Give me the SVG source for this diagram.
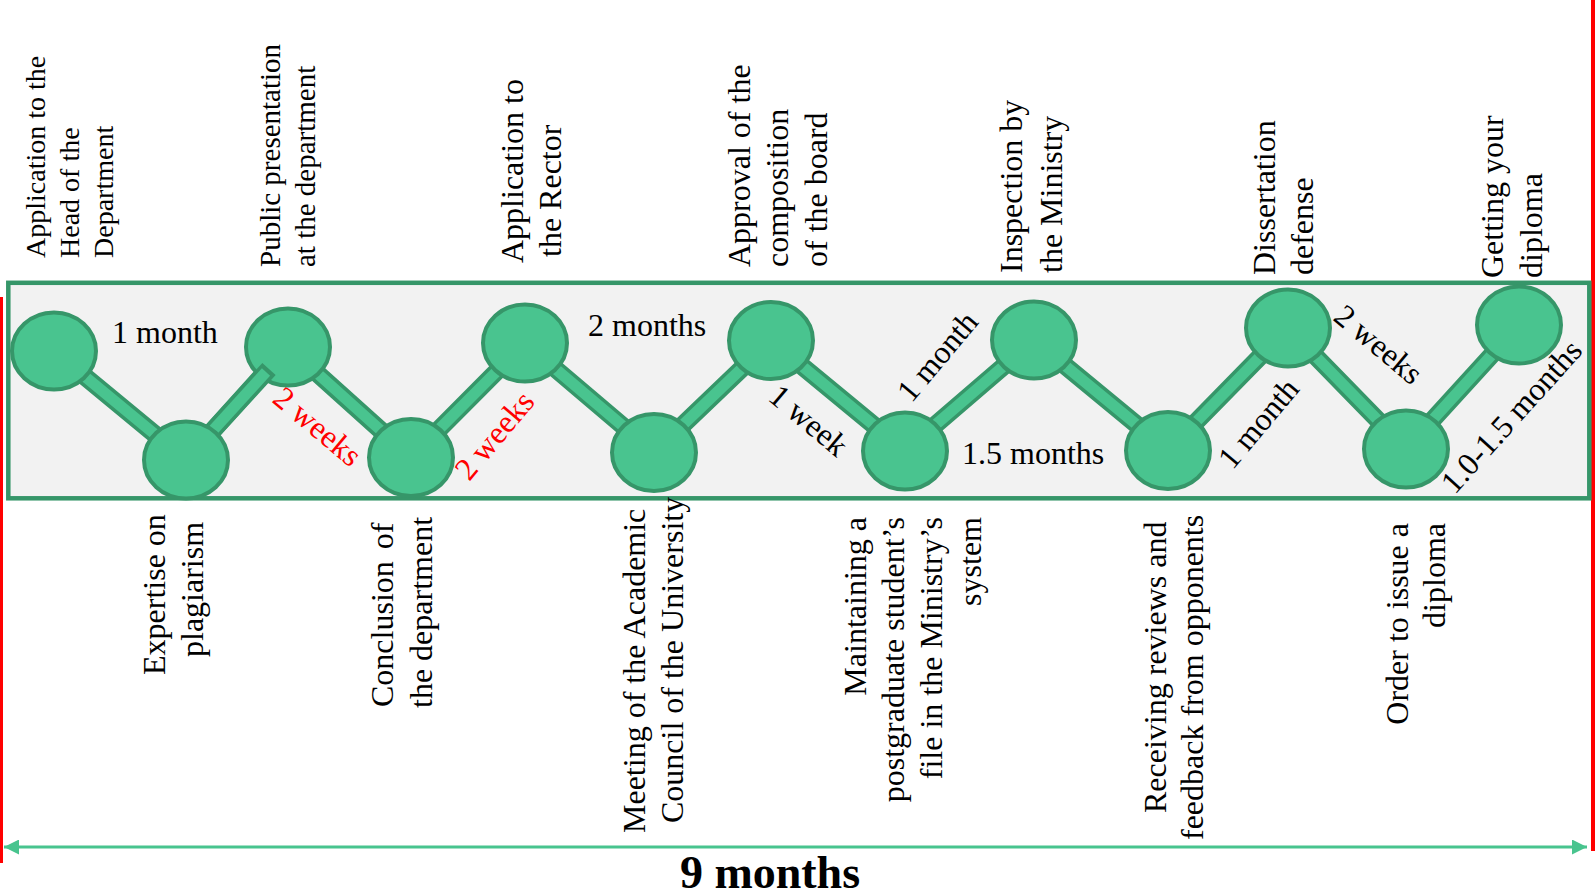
<svg xmlns="http://www.w3.org/2000/svg" width="1595" height="895" viewBox="0 0 1595 895">
<defs>
<style>
.t{font-family:"Liberation Serif","Times New Roman",serif;font-size:32px;fill:#000}
.s28{font-size:28px}
.s29{font-size:29px}
.red{fill:#ff0000}
.node{fill:#49c48f;stroke:#369669;stroke-width:4}
.bo{stroke:#369669;stroke-width:18;fill:none;stroke-linejoin:round}
.bi{stroke:#49c48f;stroke-width:11;fill:none;stroke-linejoin:round}
</style>
<marker id="ah" viewBox="0 0 15 15" refX="15" refY="7.5" markerWidth="15" markerHeight="15" markerUnits="userSpaceOnUse" orient="auto-start-reverse"><path d="M0,0 L15,7.5 L0,15 z" fill="#48c48e"/></marker>
</defs>
<rect x="0" y="0" width="1595" height="895" fill="#ffffff"/>
<rect x="0" y="297" width="3" height="566" fill="#ff0000"/>
<rect x="1591" y="0" width="4" height="851" fill="#ff0000"/>
<rect id="frame" x="8.3" y="282.8" width="1581" height="215.5" fill="#f2f2f2" stroke="#369669" stroke-width="4.5"/>

<g id="connectors">
<polyline class="bo" points="54,351 186,460 288,347 411,457.5 525,343 654,452.5 771,340.5 905,451 1034,340 1168,450.5 1288,328 1406,449 1519,325"/>
<polyline class="bi" points="54,351 186,460 288,347 411,457.5 525,343 654,452.5 771,340.5 905,451 1034,340 1168,450.5 1288,328 1406,449 1519,325"/>
<text class="t" x="112" y="343">1 month</text>
<text class="t red" transform="translate(318,426) rotate(40)" text-anchor="middle" dy="0.35em">2 weeks</text>
<text class="t red" transform="translate(494,435) rotate(-50)" text-anchor="middle" dy="0.35em">2 weeks</text>
<text class="t" x="588" y="336">2 months</text>
<text class="t" transform="translate(809,420) rotate(40)" text-anchor="middle" dy="0.35em">1 week</text>
<text class="t" transform="translate(937,356) rotate(-50)" text-anchor="middle" dy="0.35em">1 month</text>
<text class="t" x="962" y="464">1.5 months</text>
<text class="t" transform="translate(1258,423) rotate(-50)" text-anchor="middle" dy="0.35em">1 month</text>
<text class="t" transform="translate(1379,344) rotate(40)" text-anchor="middle" dy="0.35em">2 weeks</text>
<text class="t" transform="translate(1511,416) rotate(-48)" text-anchor="middle" dy="0.35em">1.0-1.5 months</text>
</g>

<g id="node1">
<ellipse class="node" cx="54" cy="351" rx="42" ry="38.5"/>
<text class="t s28" transform="translate(45,258) rotate(-90)">Application to the</text>
<text class="t s28" transform="translate(79,258) rotate(-90)">Head of the</text>
<text class="t s28" transform="translate(113,258) rotate(-90)">Department</text>
</g>
<g id="node3">
<ellipse class="node" cx="288" cy="347" rx="42" ry="38.5"/>
<text class="t s29" transform="translate(280,267) rotate(-90)">Public presentation</text>
<text class="t s29" transform="translate(315,267) rotate(-90)">at the department</text>
</g>
<g id="connector-overlap">
<line class="bo" x1="186" y1="460" x2="269" y2="369"/>
<line class="bi" x1="186" y1="460" x2="266" y2="372"/>
</g>
<g id="node2">
<ellipse class="node" cx="186" cy="460" rx="42" ry="38.5"/>
<text class="t" transform="translate(165,675) rotate(-90)">Expertise on</text>
<text class="t" transform="translate(203,657) rotate(-90)">plagiarism</text>
</g>
<g id="node4">
<ellipse class="node" cx="411" cy="457.5" rx="42" ry="38.5"/>
<text class="t" transform="translate(393,707) rotate(-90)" word-spacing="4">Conclusion of</text>
<text class="t" transform="translate(432,708) rotate(-90)">the department</text>
</g>
<g id="node5">
<ellipse class="node" cx="525" cy="343" rx="42" ry="38.5"/>
<text class="t" transform="translate(523,263) rotate(-90)">Application to</text>
<text class="t" transform="translate(561,257) rotate(-90)">the Rector</text>
</g>
<g id="node6">
<ellipse class="node" cx="654" cy="452.5" rx="42" ry="38.5"/>
<text class="t" transform="translate(645,833) rotate(-90)">Meeting of the Academic</text>
<text class="t" transform="translate(683,823) rotate(-90)">Council of the University</text>
</g>
<g id="node7">
<ellipse class="node" cx="771" cy="340.5" rx="42" ry="38.5"/>
<text class="t" transform="translate(750,267) rotate(-90)">Approval of the</text>
<text class="t" transform="translate(788,267) rotate(-90)">composition</text>
<text class="t" transform="translate(827,267) rotate(-90)">of the board</text>
</g>
<g id="node8">
<ellipse class="node" cx="905" cy="451" rx="42" ry="38.5"/>
<text class="t" transform="translate(866,517) rotate(-90)" text-anchor="end">Maintaining a</text>
<text class="t" transform="translate(904,517) rotate(-90)" text-anchor="end">postgraduate student’s</text>
<text class="t" transform="translate(942,517) rotate(-90)" text-anchor="end">file in the Ministry’s</text>
<text class="t" transform="translate(981,517) rotate(-90)" text-anchor="end">system</text>
</g>
<g id="node9">
<ellipse class="node" cx="1034" cy="340" rx="42" ry="38.5"/>
<text class="t" transform="translate(1022,273) rotate(-90)">Inspection by</text>
<text class="t" transform="translate(1062,273) rotate(-90)">the Ministry</text>
</g>
<g id="node10">
<ellipse class="node" cx="1168" cy="450.5" rx="42" ry="38.5"/>
<text class="t" transform="translate(1166,813) rotate(-90)">Receiving reviews and</text>
<text class="t" transform="translate(1203,840) rotate(-90)">feedback from opponents</text>
</g>
<g id="node11">
<ellipse class="node" cx="1288" cy="328" rx="42" ry="38.5"/>
<text class="t" transform="translate(1275,275) rotate(-90)">Dissertation</text>
<text class="t" transform="translate(1313,275) rotate(-90)">defense</text>
</g>
<g id="node12">
<ellipse class="node" cx="1406" cy="449" rx="42" ry="38.5"/>
<text class="t" transform="translate(1408,523) rotate(-90)" text-anchor="end">Order to issue a</text>
<text class="t" transform="translate(1445,523) rotate(-90)" text-anchor="end">diploma</text>
</g>
<g id="node13">
<ellipse class="node" cx="1519" cy="325" rx="42" ry="38.5"/>
<text class="t" transform="translate(1503,278) rotate(-90)">Getting your</text>
<text class="t" transform="translate(1542,278) rotate(-90)">diploma</text>
</g>

<g id="duration">
<line x1="4" y1="847" x2="1587" y2="847" stroke="#48c48e" stroke-width="3" marker-start="url(#ah)" marker-end="url(#ah)"/>
<text class="t" x="770" y="888" text-anchor="middle" font-size="46" font-weight="bold" style="font-size:46px">9 months</text>
</g>
</svg>
